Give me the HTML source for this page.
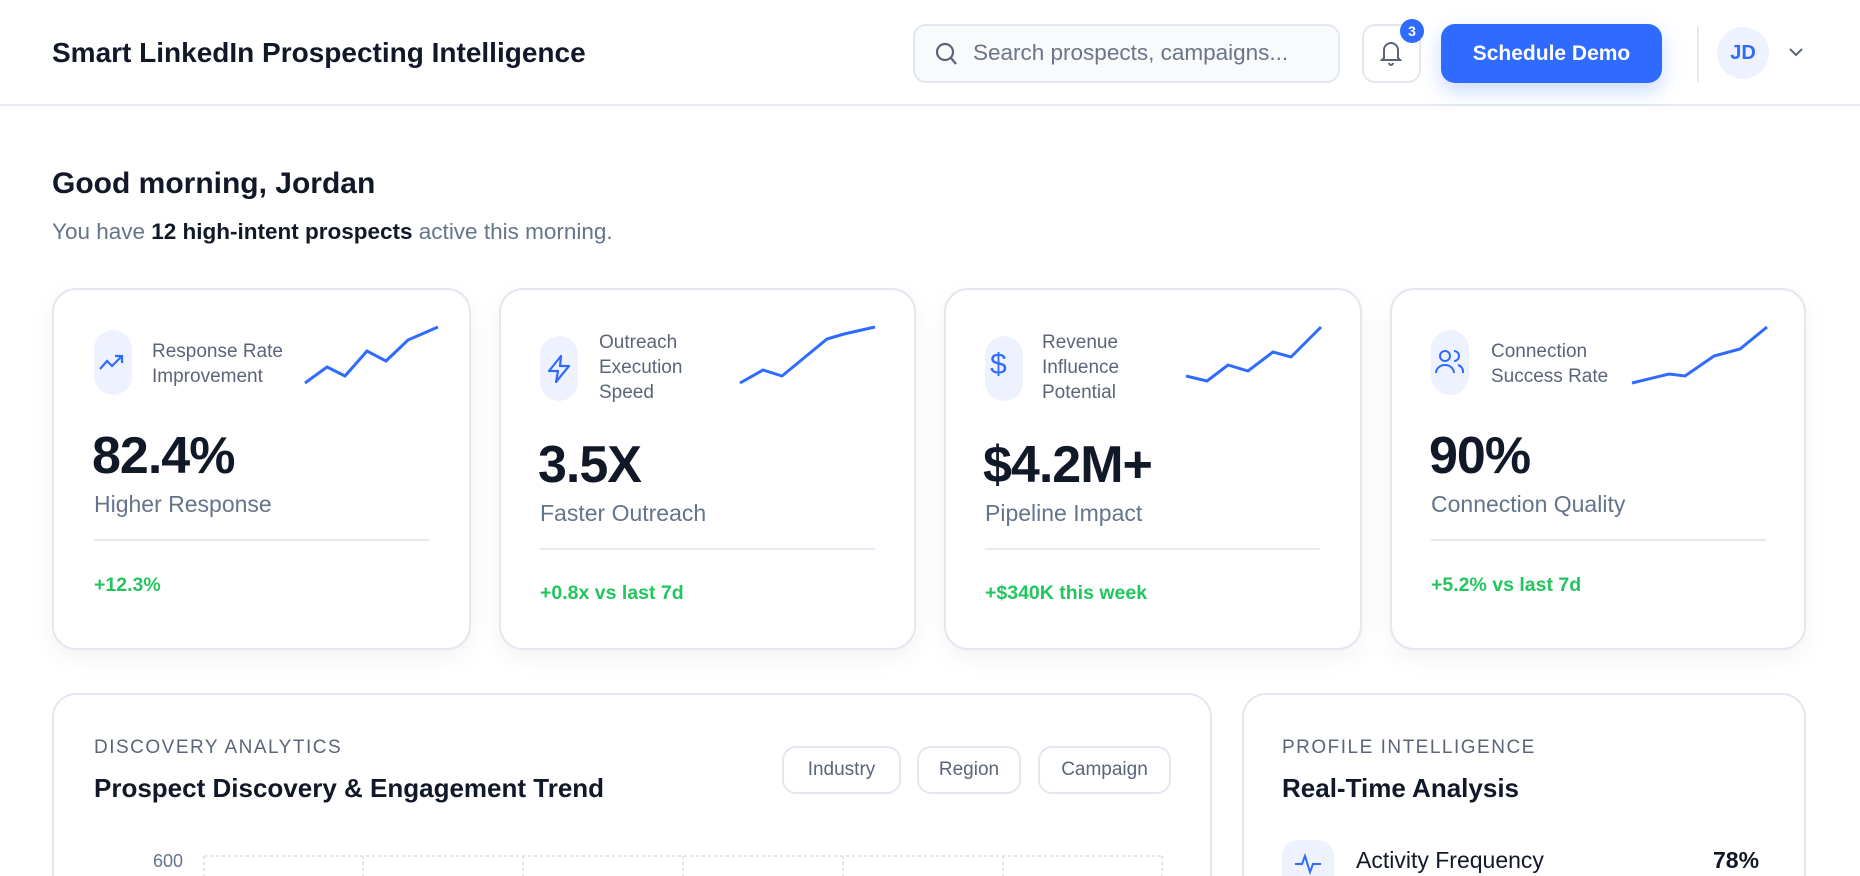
<!DOCTYPE html>
<html style="width:1860px;height:876px;overflow:hidden"><head><meta charset="utf-8"><style>
*{box-sizing:border-box;margin:0;padding:0}
body{width:1860px;height:876px;overflow:hidden;background:#fff;font-family:"Liberation Sans",sans-serif;color:#111827;position:relative}
.a{position:absolute}
.hdr{left:0;top:0;width:1860px;height:106px;border-bottom:2px solid #e5e9f2;background:#fff}
.card{position:absolute;background:#fff;border:2px solid #e3e7ef;border-radius:24px;box-shadow:0 8px 24px rgba(15,23,42,0.05)}
.bc{border-bottom:none;border-radius:24px 24px 0 0;box-shadow:none}
.ib{position:absolute;background:#eef2ff;border-radius:19px;width:38px;height:65px}
.lbl{position:absolute;font-size:19px;line-height:25px;color:#5b6577}
.num{position:absolute;font-size:52px;font-weight:bold;color:#111827;letter-spacing:-1px}
.sub{position:absolute;font-size:23px;color:#64748b}
.div{position:absolute;height:2px;background:#e5e9f2;width:335px}
.grn{position:absolute;font-size:19.5px;color:#22c55e;font-weight:bold}
.pill{position:absolute;top:746px;height:48px;border:2px solid #e3e7ef;border-radius:14px;font-size:19px;color:#5b6577;display:flex;align-items:center;justify-content:center}
.cap{position:absolute;font-size:19px;letter-spacing:1.5px;color:#5b6577}
.ttl{position:absolute;font-size:26px;font-weight:bold;color:#111827}
</style></head><body>
<div class="a hdr"></div>
<div class="a" style="left:52px;top:37px;font-size:28px;font-weight:bold;color:#111827">Smart LinkedIn Prospecting Intelligence</div>
<div class="a" style="left:913px;top:24px;width:427px;height:59px;border:2px solid #e3e7ef;border-radius:13px;background:#f8fafc"></div>
<svg class="a" style="left:934px;top:40px" width="26" height="28" viewBox="0 0 26 28"><circle cx="11" cy="12" r="8" fill="none" stroke="#5b6577" stroke-width="2.2"/><line x1="17" y1="18" x2="22" y2="24" stroke="#5b6577" stroke-width="2.2"/></svg>
<div class="a" style="left:973px;top:40px;font-size:22.5px;color:#6b7585">Search prospects, campaigns...</div>
<div class="a" style="left:1362px;top:24px;width:59px;height:59px;border:2px solid #e3e7ef;border-radius:13px;background:#fff"></div>
<svg class="a" style="left:1378px;top:38px" width="26" height="30" viewBox="0 0 26 30"><path d="M6 20 V12 a7 7 0 0 1 14 0 V20 L22 22 H4 Z" fill="none" stroke="#5b6577" stroke-width="2"/><path d="M11 25 a2 2 0 0 0 4 0" fill="none" stroke="#5b6577" stroke-width="2"/></svg>
<div class="a" style="left:1400px;top:19px;width:24px;height:24px;border-radius:12px;background:#2f6bff;color:#fff;font-size:14px;font-weight:bold;text-align:center;line-height:24px">3</div>
<div class="a" style="left:1441px;top:24px;width:221px;height:59px;border-radius:14px;background:#2f6bff;color:#fff;font-size:21px;font-weight:bold;text-align:center;line-height:59px;box-shadow:0 8px 20px rgba(47,107,255,0.25)">Schedule Demo</div>
<div class="a" style="left:1697px;top:26px;width:2px;height:56px;background:#e5e9f2"></div>
<div class="a" style="left:1717px;top:27px;width:52px;height:52px;border-radius:26px;background:#eef2ff;color:#2f6bff;font-size:20px;font-weight:bold;text-align:center;line-height:52px">JD</div>
<svg class="a" style="left:1789px;top:47px" width="14" height="10"><path d="M1 2 L7 8 L13 2" fill="none" stroke="#5b6577" stroke-width="2"/></svg>

<div class="a" style="left:52px;top:167px;font-size:30px;font-weight:bold">Good morning, Jordan</div>
<div class="a" style="left:52px;top:219px;font-size:22.5px;color:#64748b">You have <b style="color:#111827">12 high-intent prospects</b> active this morning.</div>

<div class="card" style="left:52px;top:288px;width:419px;height:362px"></div>
<div class="card" style="left:499px;top:288px;width:417px;height:362px"></div>
<div class="card" style="left:944px;top:288px;width:418px;height:362px"></div>
<div class="card" style="left:1390px;top:288px;width:416px;height:362px"></div>

<div class="ib" style="left:94px;top:330px"></div>
<svg class="a" style="left:98px;top:350px" width="30" height="24"><path d="M2 19 L9 11 L14 16 L24 6 M17 6 H24 V13" fill="none" stroke="#2f6bff" stroke-width="2.2"/></svg>
<div class="lbl" style="left:152px;top:339px">Response Rate<br>Improvement</div>
<svg class="a" style="left:300px;top:323px" width="145" height="65"><polyline points="5,60 27,44 45,53 67,28 86,38 108,17 138,4" fill="none" stroke="#2f6bff" stroke-width="3"/></svg>
<div class="num" style="left:92px;top:426px">82.4%</div>
<div class="sub" style="left:94px;top:491px">Higher Response</div>
<div class="div" style="left:94px;top:539px"></div>
<div class="grn" style="left:94px;top:574px">+12.3%</div>

<div class="ib" style="left:540px;top:336px"></div>
<svg class="a" style="left:544px;top:354px" width="30" height="30"><path d="M17 2 L5 17 H14 L12 28 L25 12 H16 Z" fill="none" stroke="#2f6bff" stroke-width="2.2" stroke-linejoin="round"/></svg>
<div class="lbl" style="left:599px;top:330px">Outreach<br>Execution<br>Speed</div>
<svg class="a" style="left:737px;top:323px" width="145" height="65"><polyline points="3,60 26,47 45,53 90,16 107,11 138,4" fill="none" stroke="#2f6bff" stroke-width="3"/></svg>
<div class="num" style="left:538px;top:435px">3.5X</div>
<div class="sub" style="left:540px;top:500px">Faster Outreach</div>
<div class="div" style="left:540px;top:548px"></div>
<div class="grn" style="left:540px;top:582px">+0.8x vs last 7d</div>

<div class="ib" style="left:985px;top:336px"></div>
<div class="a" style="left:990px;top:348px;font-size:30px;color:#2f6bff">$</div>
<div class="lbl" style="left:1042px;top:330px">Revenue<br>Influence<br>Potential</div>
<svg class="a" style="left:1183px;top:323px" width="145" height="65"><polyline points="3,53 24,58 45,42 65,48 90,29 108,34 138,4" fill="none" stroke="#2f6bff" stroke-width="3"/></svg>
<div class="num" style="left:983px;top:435px">$4.2M+</div>
<div class="sub" style="left:985px;top:500px">Pipeline Impact</div>
<div class="div" style="left:985px;top:548px"></div>
<div class="grn" style="left:985px;top:582px">+$340K this week</div>

<div class="ib" style="left:1431px;top:330px"></div>
<svg class="a" style="left:1434px;top:348px" width="32" height="28"><circle cx="11" cy="8" r="5" fill="none" stroke="#2f6bff" stroke-width="2"/><path d="M2 25 a9 8 0 0 1 18 0" fill="none" stroke="#2f6bff" stroke-width="2"/><path d="M20 3 a5 5 0 0 1 0 10 M24 17 a7 7 0 0 1 5 8" fill="none" stroke="#2f6bff" stroke-width="2"/></svg>
<div class="lbl" style="left:1491px;top:339px">Connection<br>Success Rate</div>
<svg class="a" style="left:1629px;top:323px" width="145" height="65"><polyline points="3,60 40,51 56,53 85,33 111,26 138,4" fill="none" stroke="#2f6bff" stroke-width="3"/></svg>
<div class="num" style="left:1429px;top:426px">90%</div>
<div class="sub" style="left:1431px;top:491px">Connection Quality</div>
<div class="div" style="left:1431px;top:539px"></div>
<div class="grn" style="left:1431px;top:574px">+5.2% vs last 7d</div>

<div class="card bc" style="left:52px;top:693px;width:1160px;height:183px"></div>
<div class="card bc" style="left:1242px;top:693px;width:564px;height:183px"></div>
<div class="cap" style="left:94px;top:737px">DISCOVERY ANALYTICS</div>
<div class="ttl" style="left:94px;top:773px">Prospect Discovery &amp; Engagement Trend</div>
<div class="pill" style="left:782px;width:119px">Industry</div>
<div class="pill" style="left:917px;width:104px">Region</div>
<div class="pill" style="left:1038px;width:133px">Campaign</div>
<div class="a" style="left:153px;top:851px;font-size:18px;color:#64748b">600</div>
<svg class="a" style="left:200px;top:850px" width="970" height="26"><line x1="4" y1="6" x2="962" y2="6" stroke="#d8dde6" stroke-width="1.5" stroke-dasharray="3,3"/>
<g stroke="#d8dde6" stroke-width="1.5" stroke-dasharray="3,3"><line x1="4" y1="6" x2="4" y2="26"/><line x1="163" y1="6" x2="163" y2="26"/><line x1="323" y1="6" x2="323" y2="26"/><line x1="483" y1="6" x2="483" y2="26"/><line x1="643" y1="6" x2="643" y2="26"/><line x1="803" y1="6" x2="803" y2="26"/><line x1="962" y1="6" x2="962" y2="26"/></g></svg>
<div class="cap" style="left:1282px;top:737px">PROFILE INTELLIGENCE</div>
<div class="ttl" style="left:1282px;top:773px">Real-Time Analysis</div>
<div class="a" style="left:1282px;top:840px;width:52px;height:36px;border-radius:16px 16px 0 0;background:#eef2ff"></div>
<svg class="a" style="left:1294px;top:852px" width="28" height="24"><polyline points="1,12 8,12 11,4 16,20 19,12 27,12" fill="none" stroke="#2f6bff" stroke-width="2"/></svg>
<div class="a" style="left:1356px;top:847px;font-size:23px;color:#111827">Activity Frequency</div>
<div class="a" style="left:1713px;top:847px;font-size:23px;font-weight:bold;color:#111827">78%</div>
</body></html>
